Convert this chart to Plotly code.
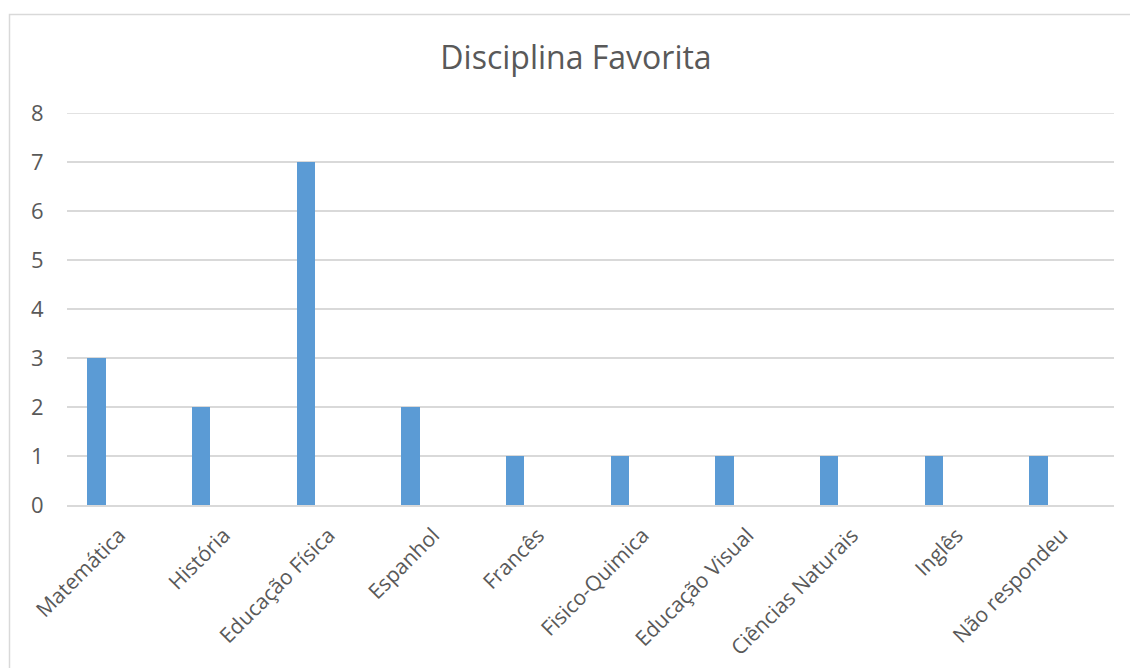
import plotly.graph_objects as go

categories = ["Matemática", "História", "Educação Física", "Espanhol", "Francês",
              "Fisico-Quimica", "Educação Visual", "Ciências Naturais", "Inglês", "Não respondeu"]
values = [3, 2, 7, 2, 1, 1, 1, 1, 1, 1]
y_ticks = [0, 1, 2, 3, 4, 5, 6, 7, 8]

W, H = 1130, 668
ML, MR, MT, MB = 67, 16, 113, 163
pw = W - ML - MR
ph = H - MT - MB

def px_to_paper_x(px):
    return (px - ML) / pw

def px_to_paper_y(py):
    return (H - MB - py) / ph

fig = go.Figure()
fig.add_trace(go.Bar(
    x=categories, y=values,
    marker=dict(color="#5B9BD5", line=dict(width=0)),
    width=0.176, offset=-0.308,
))

fig.update_layout(
    width=W, height=H,
    margin=dict(l=ML, r=MR, t=MT, b=MB, pad=0, autoexpand=False),
    paper_bgcolor="white", plot_bgcolor="white",
    showlegend=False,
    font=dict(family="Open Sans", color="#595959"),
    title=dict(text="Disciplina Favorita", x=px_to_paper_x(576), xref="paper",
               xanchor="center", y=1 - 58 / H, yanchor="middle",
               font=dict(size=32, color="#595959", family="Open Sans")),
    bargap=0,
)
fig.update_xaxes(
    type="category", range=[-0.5, 9.5], automargin=False,
    tickangle=-45, tickfont=dict(size=21, color="#595959"),
    showline=True, linecolor="#D9D9D9", linewidth=1.5,
    showgrid=False, ticks="outside", ticklen=8, tickcolor="rgba(0,0,0,0)",
)
fig.update_yaxes(
    range=[0, 8], tickvals=y_ticks, ticktext=[str(v) for v in y_ticks],
    automargin=False,
    tickfont=dict(size=22, color="#595959"),
    showgrid=True, gridcolor="#D9D9D9", gridwidth=1.5,
    zeroline=False, showline=False,
    ticks="outside", ticklen=18, tickcolor="rgba(0,0,0,0)",
)
fig.add_hline(y=y_ticks[-1], line=dict(color="#D9D9D9", width=1.5), layer="below")
fig.add_shape(type="rect", xref="paper", yref="paper",
              x0=px_to_paper_x(9.5), x1=px_to_paper_x(1150),
              y0=px_to_paper_y(690), y1=px_to_paper_y(14.5),
              line=dict(color="#D9D9D9", width=1.5), fillcolor="rgba(0,0,0,0)", layer="below")

fig.write_html("out.html")
